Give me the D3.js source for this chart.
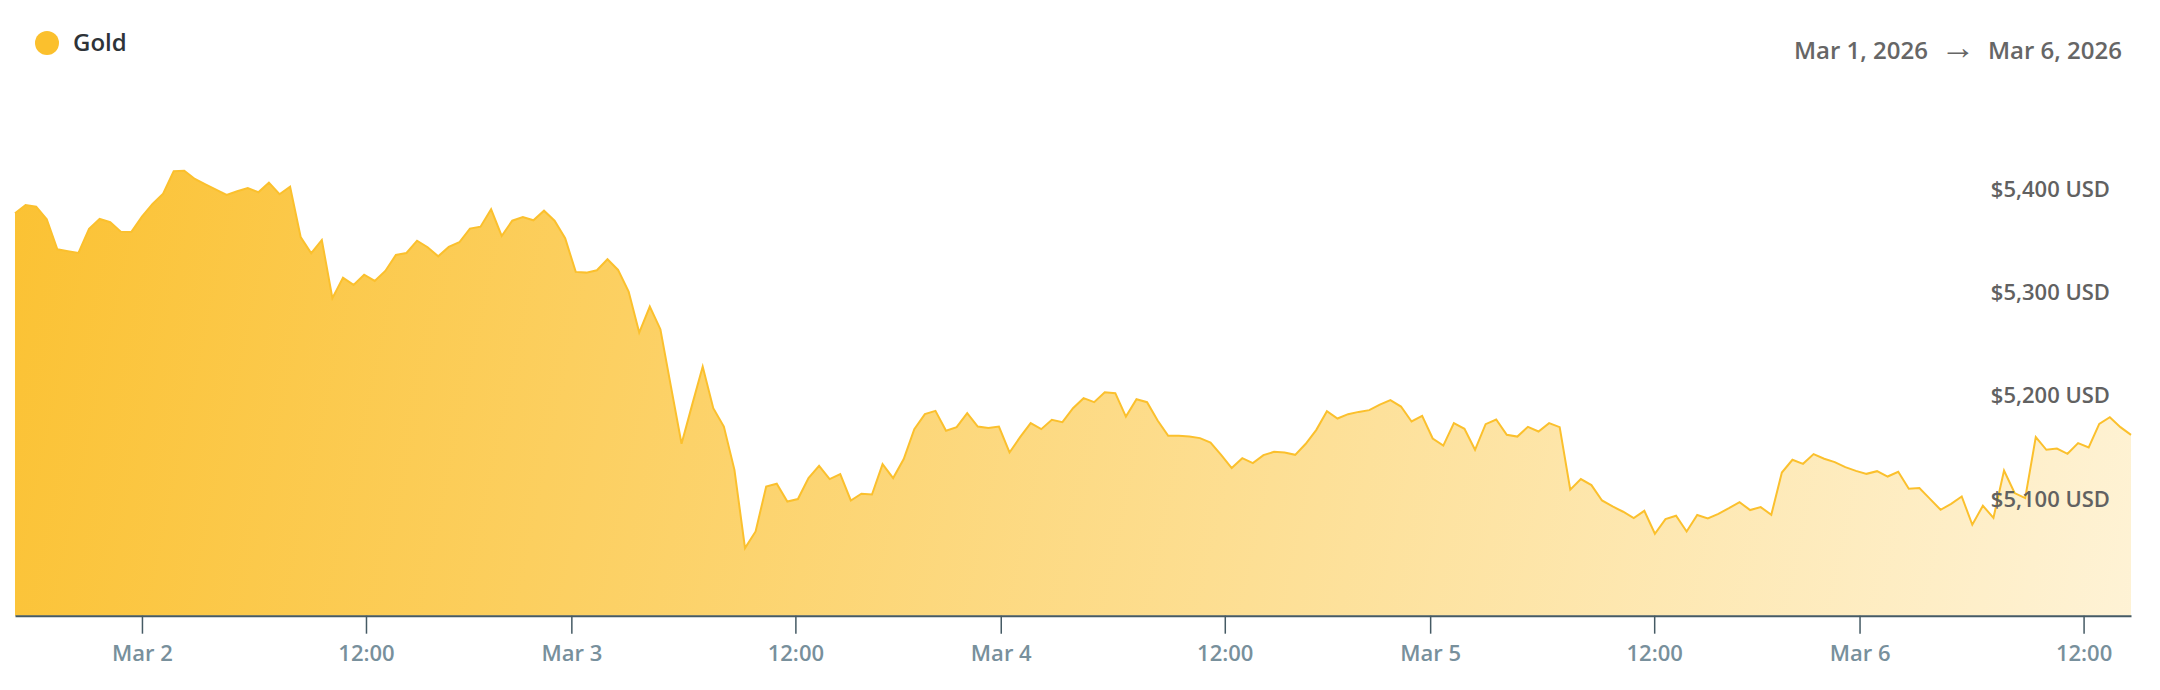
<!DOCTYPE html>
<html>
<head>
<meta charset="utf-8">
<script src="https://cdn.jsdelivr.net/npm/d3@7"></script>
<style>
  html, body { margin: 0; padding: 0; background: #ffffff; }
  svg { display: block; font-family: "Open Sans", "Noto Sans", sans-serif; }
</style>
</head>
<body>
<svg id="chart" width="2160" height="690"></svg>
<script>
// ---------------- DATA ----------------
const seriesName = "Gold";
const rangeStartLabel = "Mar 1, 2026";
const rangeEndLabel = "Mar 6, 2026";

// Gold price (USD), one point per sample
const goldValues = [
  5376.8, 5384.8, 5383.2, 5371.0, 5341.9, 5340.0, 5338.3, 5361.6, 5371.3, 5368.1,
  5359.0, 5358.7, 5373.5, 5385.8, 5395.7, 5417.4, 5418.0, 5410.0, 5404.8, 5399.6,
  5394.5, 5398.1, 5401.3, 5397.1, 5406.4, 5395.2, 5402.5, 5353.8, 5338.1, 5350.9,
  5294.5, 5314.4, 5307.4, 5317.3, 5311.2, 5320.9, 5336.4, 5338.3, 5350.2, 5343.9,
  5335.1, 5344.2, 5348.7, 5361.9, 5363.8, 5380.6, 5354.8, 5369.6, 5373.2, 5370.0,
  5379.3, 5369.6, 5352.6, 5320.0, 5319.3, 5321.6, 5332.2, 5321.9, 5300.9, 5261.2,
  5286.4, 5264.5, 5208.9, 5153.5, 5191.2, 5228.3, 5188.0, 5170.2, 5128.3, 5052.5,
  5068.6, 5112.1, 5114.8, 5097.6, 5100.0, 5120.3, 5132.2, 5119.3, 5124.1, 5098.6,
  5105.1, 5104.4, 5133.8, 5120.3, 5138.7, 5167.7, 5182.2, 5185.4, 5166.1, 5169.6,
  5183.2, 5170.2, 5168.7, 5170.2, 5145.1, 5160.0, 5173.5, 5167.7, 5176.7, 5174.5,
  5188.0, 5197.7, 5193.8, 5203.5, 5202.5, 5179.9, 5196.7, 5193.8, 5176.0, 5161.2,
  5161.2, 5160.5, 5159.0, 5154.7, 5142.8, 5130.0, 5139.6, 5134.8, 5142.5, 5145.7,
  5145.1, 5142.8, 5153.5, 5167.0, 5185.1, 5178.0, 5182.2, 5184.4, 5186.1, 5191.5,
  5195.8, 5189.6, 5175.1, 5180.6, 5158.6, 5151.8, 5173.5, 5168.0, 5147.7, 5172.5,
  5177.0, 5162.2, 5160.5, 5169.9, 5165.4, 5173.5, 5169.6, 5109.0, 5119.3, 5113.5,
  5098.6, 5092.8, 5087.7, 5081.6, 5088.6, 5066.4, 5080.6, 5083.8, 5068.6, 5084.5,
  5081.2, 5085.7, 5091.2, 5097.0, 5089.3, 5092.2, 5084.7, 5125.7, 5138.0, 5134.1,
  5143.5, 5139.0, 5135.8, 5130.9, 5127.3, 5124.4, 5127.0, 5121.8, 5126.4, 5109.9,
  5110.6, 5100.2, 5089.6, 5095.4, 5102.5, 5075.1, 5093.5, 5081.8, 5127.6, 5105.8,
  5100.9, 5160.0, 5147.7, 5148.9, 5143.8, 5154.2, 5149.9, 5172.8, 5179.3, 5169.6,
  5162.2
];

// Time axis in trading hours since Mar 2 00:00 (23-hour sessions, daily break skipped)
const firstSampleHour = -6.8;
const sampleStepHours = 0.5667;
const xTickHours  = [0, 12, 23, 35, 46, 58, 69, 81, 92, 104];
const xTickLabels = ["Mar 2", "12:00", "Mar 3", "12:00", "Mar 4", "12:00", "Mar 5", "12:00", "Mar 6", "12:00"];

const yTickValues = [5100, 5200, 5300, 5400];
const yDomain = [4987, 5400];

// ---------------- DRAW ----------------
const W = 2160, H = 690;
const plotLeft = 15, plotRight = 2131;
const plotBottom = 615.7, topAt5400 = 189.3;
const gold = "#FBC02D";

const data = goldValues.map((v, i) => ({ t: firstSampleHour + i * sampleStepHours, v }));

const svg = d3.select("#chart");

const x = d3.scaleLinear()
  .domain(d3.extent(data, d => d.t))
  .range([plotLeft, plotRight]);

const y = d3.scaleLinear()
  .domain(yDomain)
  .range([plotBottom, topAt5400]);

const defs = svg.append("defs");
const grad = defs.append("linearGradient")
  .attr("id", "goldFill")
  .attr("gradientUnits", "userSpaceOnUse")
  .attr("x1", plotLeft).attr("y1", 170)
  .attr("x2", plotRight).attr("y2", plotBottom);
grad.append("stop").attr("offset", 0).attr("stop-color", gold).attr("stop-opacity", 0.97);
grad.append("stop").attr("offset", 1).attr("stop-color", gold).attr("stop-opacity", 0.2);

const area = d3.area()
  .x(d => x(d.t))
  .y0(y(yDomain[0]))
  .y1(d => y(d.v));

const line = d3.line()
  .x(d => x(d.t))
  .y(d => y(d.v));

svg.append("path")
  .datum(data)
  .attr("d", area)
  .attr("fill", "url(#goldFill)");

svg.append("path")
  .datum(data)
  .attr("d", line)
  .attr("fill", "none")
  .attr("stroke", gold)
  .attr("stroke-width", 2)
  .attr("stroke-linejoin", "miter");

// X axis
const xAxis = d3.axisBottom(x)
  .tickValues(xTickHours)
  .tickFormat((d, i) => xTickLabels[i])
  .tickSize(18)
  .tickSizeOuter(0)
  .tickPadding(12);

const gx = svg.append("g")
  .attr("transform", `translate(0,${plotBottom})`)
  .call(xAxis);
gx.select(".domain").attr("stroke", "#455A64").attr("stroke-width", 2);
gx.selectAll(".tick line").attr("stroke", "#455A64").attr("stroke-width", 1.5);
gx.selectAll(".tick text")
  .attr("fill", "#78909C")
  .style("font-family", "'Open Sans', sans-serif")
  .style("font-size", "22px")
  .style("font-weight", 600);

// Y axis labels (right side, no lines)
const yAxis = d3.axisLeft(y)
  .tickValues(yTickValues)
  .tickFormat(d => "$" + d3.format(",")(d) + " USD")
  .tickSize(0)
  .tickPadding(0);
const gy = svg.append("g")
  .attr("transform", `translate(2110,0)`)
  .call(yAxis);
gy.select(".domain").remove();
gy.selectAll(".tick text")
  .attr("fill", "#616161")
  .style("font-family", "'Open Sans', sans-serif")
  .style("font-size", "22px")
  .style("font-weight", 600);

// Legend
const legend = svg.append("g");
legend.append("circle").attr("cx", 47).attr("cy", 43).attr("r", 12).attr("fill", gold);
legend.append("text")
  .attr("x", 73).attr("y", 43)
  .attr("dy", "0.35em")
  .attr("fill", "#2E3338")
  .style("font-size", "24px")
  .style("font-weight", 600)
  .text(seriesName);

// Date range
const range = svg.append("g")
  .style("font-size", "24px")
  .style("font-weight", 600)
  .attr("fill", "#666666");
range.append("text").attr("x", 1928).attr("y", 51).attr("dy", "0.35em")
  .attr("text-anchor", "end").text(rangeStartLabel);
range.append("text").attr("x", 1958).attr("y", 51).attr("dy", "0.22em")
  .attr("text-anchor", "middle")
  .style("font-family", "'Liberation Sans', 'DejaVu Sans', sans-serif")
  .style("font-weight", 400)
  .style("font-size", "35px")
  .text("\u2192");
range.append("text").attr("x", 2122).attr("y", 51).attr("dy", "0.35em")
  .attr("text-anchor", "end").text(rangeEndLabel);
</script>
</body>
</html>
